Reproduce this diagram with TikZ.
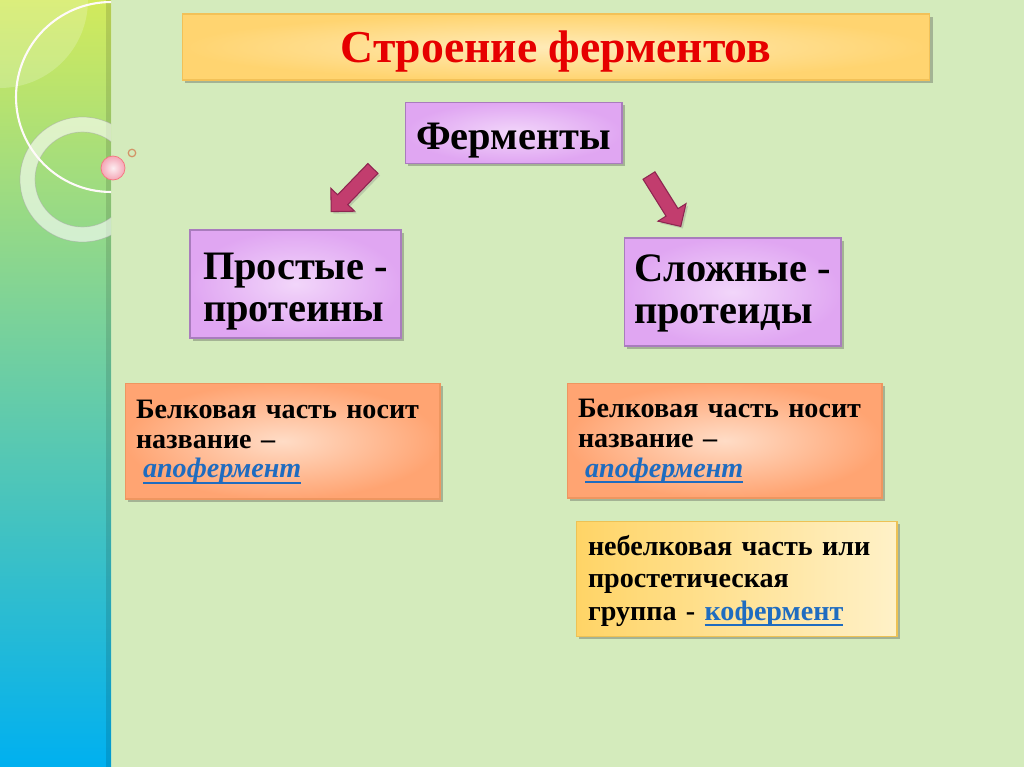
\documentclass[tikz,border=0pt]{standalone}
\usepackage{fontspec}
\setmainfont{Liberation Serif}
\usetikzlibrary{shapes,arrows,positioning,shadows}

\newsavebox{\linkbox}
\newcommand{\linkul}[1]{\sbox{\linkbox}{#1}\rlap{\rule[-3.2pt]{\wd\linkbox}{1.1pt}}\usebox{\linkbox}}

\definecolor{bgpage}{HTML}{D4EBBC}
\definecolor{stripTop}{HTML}{D2EA5C}
\definecolor{stripMid}{HTML}{6FD49A}
\definecolor{stripBot}{HTML}{00B0F0}
\definecolor{titlein}{HTML}{FFEBB8}
\definecolor{titleout}{HTML}{FFD470}
\definecolor{titleline}{HTML}{F2C158}
\definecolor{titlered}{HTML}{E60000}
\definecolor{violetin}{HTML}{F2D6FA}
\definecolor{violetout}{HTML}{E0A6F2}
\definecolor{violetline}{HTML}{A97CBD}
\definecolor{orangein}{HTML}{FFDCC6}
\definecolor{orangeout}{HTML}{FFA472}
\definecolor{orangeline}{HTML}{EE9660}
\definecolor{yellowin}{HTML}{FFF1C8}
\definecolor{yellowout}{HTML}{FFD466}
\definecolor{yellowline}{HTML}{EDC255}
\definecolor{linkblue}{HTML}{1F6CC0}
\definecolor{arrowfill}{HTML}{C23D6E}
\definecolor{arrowline}{HTML}{8E2550}
\definecolor{ballpink}{HTML}{F4A6B6}

\begin{document}
\begin{tikzpicture}[x=0.02cm, y=-0.02cm, node distance=0.8cm,
        box/.style={rectangle, draw, line width=0.6pt, align=left, anchor=center,
            drop shadow={shadow xshift=1.6pt, shadow yshift=-1.6pt, opacity=0.35, fill=black!70}},
        titlebox/.style={box, draw=titleline, inner color=titlein, outer color=titleout,
            minimum width=14.96cm, minimum height=1.32cm, align=center,
            text height=18.2pt, text depth=0pt,
            text=titlered, font=\fontsize{26}{28}\selectfont\bfseries},
        kindbox/.style={box, draw=violetline, inner color=violetin, outer color=violetout,
            minimum height=2.16cm, font=\fontsize{23}{24}\selectfont\bfseries},
        partbox/.style={box, draw=orangeline, inner color=orangein, outer color=orangeout,
            text width=5.86cm, inner xsep=0.22cm, minimum height=2.32cm,
            text height=12pt, text depth=38pt,
            font=\fontsize{16}{17}\selectfont\bfseries},
        cofbox/.style={box, draw=yellowline, left color=yellowout, right color=yellowin,
            text width=5.94cm, inner xsep=0.24cm, minimum height=2.3cm,
            text height=12pt, text depth=38.6pt,
            font=\fontsize{16}{18.5}\selectfont\bfseries},
        bigarrow/.style={single arrow, draw=arrowline, fill=arrowfill, line width=0.6pt,
            minimum height=1.2cm, inner xsep=0pt, inner ysep=0.13cm, single arrow head extend=0.19cm,
            drop shadow={shadow xshift=1.2pt, shadow yshift=-1.2pt, opacity=0.3}}]

    % page and left strip
    \useasboundingbox (0,0) rectangle (1024,767);
    \fill[bgpage] (0,0) rectangle (1024,767);
    \shade[top color=stripTop, middle color=stripMid, bottom color=stripBot] (0,0) rectangle (111,767);
    \fill[black, opacity=0.12] (106,0) rectangle (111,767);
    \begin{scope}
        \clip (0,0) rectangle (111,767);
        \fill[white, opacity=0.2] (0,0) circle (1.76cm);
        \draw[white, opacity=0.6, line width=0.3cm] (82.5,179.5) circle (1.1cm);
        \draw[gray!70, opacity=0.5, line width=0.4pt] (82.5,179.5) circle (1.25cm) (82.5,179.5) circle (0.95cm);
        \draw[white!92!pink, line width=1.2pt] (111,97) circle (1.9cm);
    \end{scope}
    \shade[inner color=white!80!ballpink, outer color=ballpink, draw=ballpink!70!red] (113,168) circle (0.24cm);
    \draw[brown!70!pink, line width=0.7pt] (132,153) circle (0.075cm);

    % boxes
    \node[titlebox] (title) at (556,47) {Строение ферментов};
    \node[kindbox, minimum width=4.34cm, minimum height=1.22cm, align=center,
        text height=18.8pt, text depth=0pt,
        below=0.42cm of title, xshift=-0.85cm] (enz) {Ферменты};
    \node[kindbox, minimum width=4.22cm, text height=43pt, text depth=0pt] (simple) at (295.5,284) {Простые -\\протеины};
    \node[kindbox, minimum width=4.34cm, text height=35.7pt, text depth=0pt] (complex) at (732.5,292) {Сложные -\\протеиды};

    \node[partbox, below=0.88cm of simple, xshift=-0.26cm] (apoL)
        {Белковая часть носит\\название –\\\hspace*{4pt}\textcolor{linkblue}{\linkul{\textit{апофермент}}}};
    \node[partbox, below=0.72cm of complex, xshift=-0.16cm, minimum height=2.3cm] (apoR)
        {Белковая часть носит\\название –\\\hspace*{4pt}\textcolor{linkblue}{\linkul{\textit{апофермент}}}};
    \node[cofbox, below=0.44cm of apoR, xshift=0.24cm] (coenz)
        {небелковая часть или\\простетическая\\группа - \textcolor{linkblue}{\linkul{кофермент}}};

    % arrows
    \node[bigarrow, rotate=226] (arrL) at (354.5,187.5) {};
    \node[bigarrow, rotate=-58] (arrR) at (663,198) {};

\end{tikzpicture}
\end{document}
